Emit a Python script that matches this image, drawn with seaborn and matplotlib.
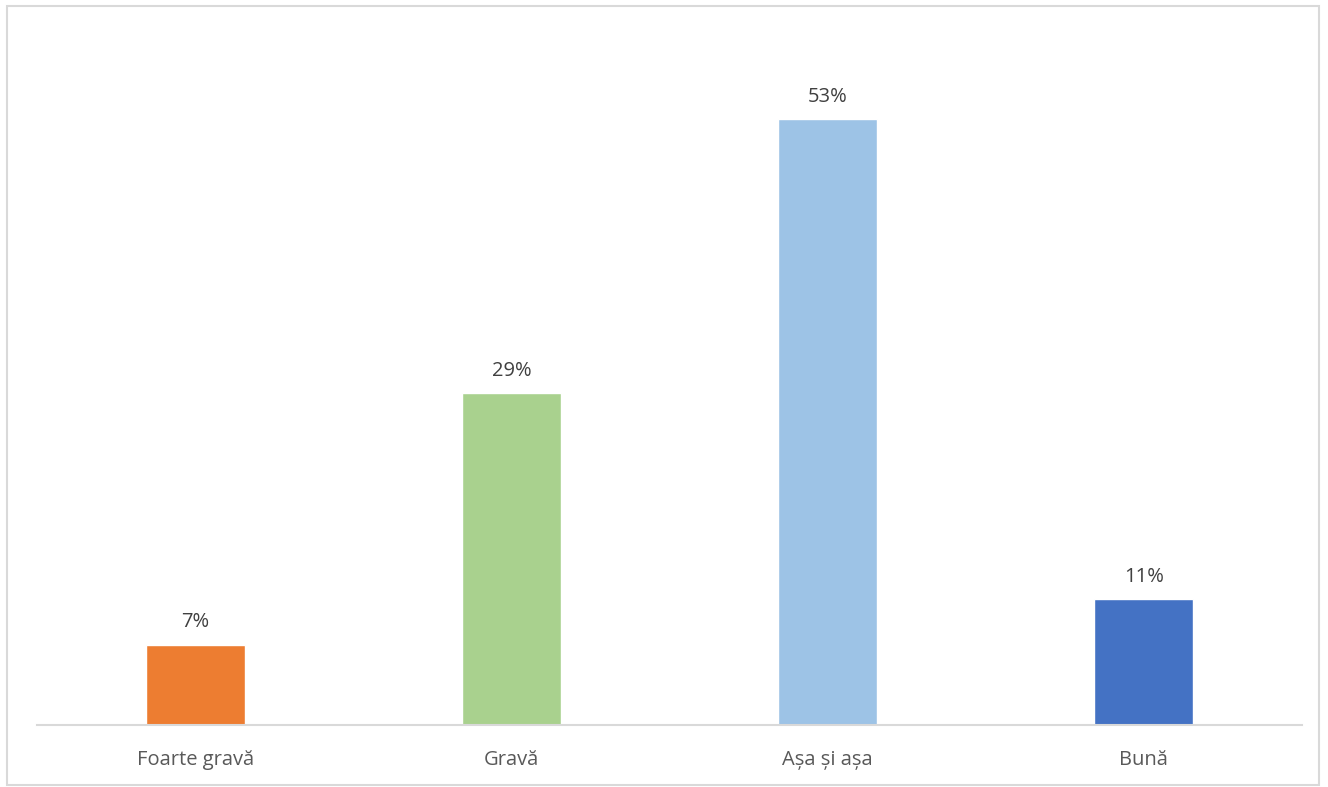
import pandas as pd
import matplotlib.pyplot as plt
import seaborn as sns
from matplotlib.patches import Rectangle

# Data
categorii = ["Foarte gravă", "Gravă", "Așa și așa", "Bună"]
procente = [7, 29, 53, 11]
culori = ["#ED7D31", "#A9D18E", "#9DC3E6", "#4472C4"]

df = pd.DataFrame({"categorie": categorii, "procent": procente})

sns.set_style("white")
plt.rcParams["font.family"] = ["Open Sans", "DejaVu Sans"]

fig = plt.figure(figsize=(13.28, 7.87), dpi=100)
ax = fig.add_axes([37 / 1328, 1 - 725 / 787, 1265 / 1328, 686 / 787])

sns.barplot(data=df, x="categorie", y="procent", hue="categorie", palette=culori,
            width=0.313, legend=False, ax=ax, saturation=1)

for cont in ax.containers:
    ax.bar_label(cont, labels=[f"{v:.0f}%" for v in cont.datavalues],
                 padding=9, fontsize=14.5, color="#404040")

ax.set_ylim(0, 60)
ax.set_xlim(-0.5, 3.5)
ax.set_xlabel("")
ax.set_ylabel("")
ax.set_yticks([])
ax.tick_params(axis="x", length=0, pad=18, labelsize=14.5, labelcolor="#595959")
for s in ["top", "left", "right"]:
    ax.spines[s].set_visible(False)
ax.spines["bottom"].set_color("#D9D9D9")
ax.spines["bottom"].set_linewidth(1.5)

# chart border
fig.patches.append(Rectangle((7 / 1328, 2 / 787), 1312 / 1328, 779 / 787,
                             transform=fig.transFigure, fill=False,
                             edgecolor="#D9D9D9", linewidth=1.5))

plt.savefig("out.png", dpi=100)
